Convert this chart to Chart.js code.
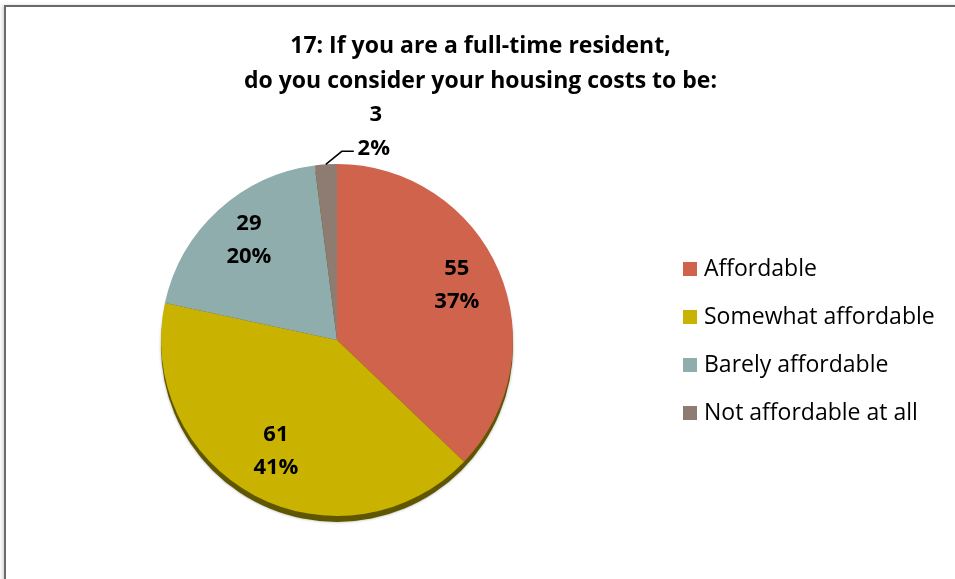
<!DOCTYPE html>
<html>
<head>
<meta charset="utf-8">
<script src="https://cdn.jsdelivr.net/npm/chart.js@4.4.0/dist/chart.umd.min.js"></script>
<style>
  html, body { margin: 0; padding: 0; background: #fff; }
  #wrap { position: relative; width: 955px; height: 579px; overflow: hidden; }
  #frame {
    position: absolute; left: 4px; top: 5px; right: -10px; bottom: -10px;
    border-top: 2px solid #6a6a6a; border-left: 2px solid #6a6a6a;
    box-shadow: -2px 0 3px rgba(0,0,0,0.15);
  }
  #title {
    position: absolute; left: 0; width: 961px; top: 27px;
    text-align: center; font: bold 23px "Open Sans", sans-serif;
    line-height: 35px; color: #000;
  }
  #legend { position: absolute; left: 683px; top: 251px; font: 23px "Open Sans", sans-serif; color: #000; }
  #legend div { height: 48px; line-height: 32px; white-space: nowrap; }
  #legend span { display: inline-block; width: 14px; height: 14px; margin-right: 7px; vertical-align: 0px; }
  canvas { position: absolute; left: 0; top: 0; }
</style>
</head>
<body>
<div id="wrap">
  <div id="frame"></div>
  <canvas id="pieChart" width="955" height="579"></canvas>
  <div id="title">17: If you are a full-time resident,<br>do you consider your housing costs to be:</div>
  <div id="legend"></div>
</div>
<script>
// Survey answers for question 17
const categories = ["Affordable", "Somewhat affordable", "Barely affordable", "Not affordable at all"];
const counts = [55, 61, 29, 3];
const colors = ["#CF634B", "#C9B200", "#8FADAD", "#8E7B71"];

const labelFont = "bold 22px 'Open Sans', sans-serif";

// legend on the right
const legend = document.getElementById("legend");
categories.forEach((name, i) => {
  const row = document.createElement("div");
  row.innerHTML = `<span style="background:${colors[i]}"></span>${name}`;
  legend.appendChild(row);
});

// dark rim under the pie
const pieShadow = {
  id: "pieShadow",
  beforeDatasetsDraw(chart) {
    const arc = chart.getDatasetMeta(0).data[0];
    if (!arc) return;
    const ctx = chart.ctx;
    ctx.save();
    ctx.fillStyle = "#5f5600";
    ctx.shadowColor = "rgba(0,0,0,0.35)";
    ctx.shadowBlur = 3;
    ctx.beginPath();
    ctx.arc(arc.x, arc.y + 6, arc.outerRadius, 0, Math.PI * 2);
    ctx.fill();
    ctx.restore();
  }
};

// value + percent labels, small slices go outside with a leader line
const sliceLabels = {
  id: "sliceLabels",
  afterDatasetsDraw(chart) {
    const ctx = chart.ctx;
    const data = chart.data.datasets[0].data;
    const total = data.reduce((a, b) => a + b, 0);
    ctx.save();
    ctx.font = labelFont;
    ctx.fillStyle = "#000";
    ctx.textBaseline = "middle";
    chart.getDatasetMeta(0).data.forEach((arc, i) => {
      const v = data[i];
      const pct = Math.round(v / total * 100) + "%";
      const mid = (arc.startAngle + arc.endAngle) / 2;
      const r = arc.outerRadius;
      if (v / total > 0.05) {
        // labels sit a little high, like on a tilted pie
        const x = arc.x + Math.cos(mid) * r * 0.74;
        const y = arc.y + Math.sin(mid) * r * 0.74 - 4;
        ctx.textAlign = "center";
        ctx.fillText(String(v), x, y - 16);
        ctx.fillText(pct, x, y + 17);
      } else {
        const px = arc.x + Math.cos(mid) * r;
        const py = arc.y + Math.sin(mid) * r;
        const ex = px + 16, ey = py - 13;
        ctx.strokeStyle = "#000";
        ctx.lineWidth = 1.5;
        ctx.beginPath();
        ctx.moveTo(px, py);
        ctx.lineTo(ex, ey);
        ctx.lineTo(ex + 12, ey);
        ctx.stroke();
        ctx.textAlign = "center";
        ctx.fillText(pct, ex + 32, ey - 3);
        ctx.fillText(String(v), ex + 34, ey - 37);
      }
    });
    ctx.restore();
  }
};

new Chart(document.getElementById("pieChart"), {
  type: "pie",
  data: {
    labels: categories,
    datasets: [{
      data: counts,
      backgroundColor: colors,
      borderWidth: 0
    }]
  },
  options: {
    responsive: false,
    animation: false,
    layout: { padding: { left: 161, right: 442, top: 164, bottom: 63 } },
    plugins: {
      legend: { display: false },
      title: { display: false },
      tooltip: { enabled: false }
    }
  },
  plugins: [pieShadow, sliceLabels]
});
</script>
</body>
</html>
